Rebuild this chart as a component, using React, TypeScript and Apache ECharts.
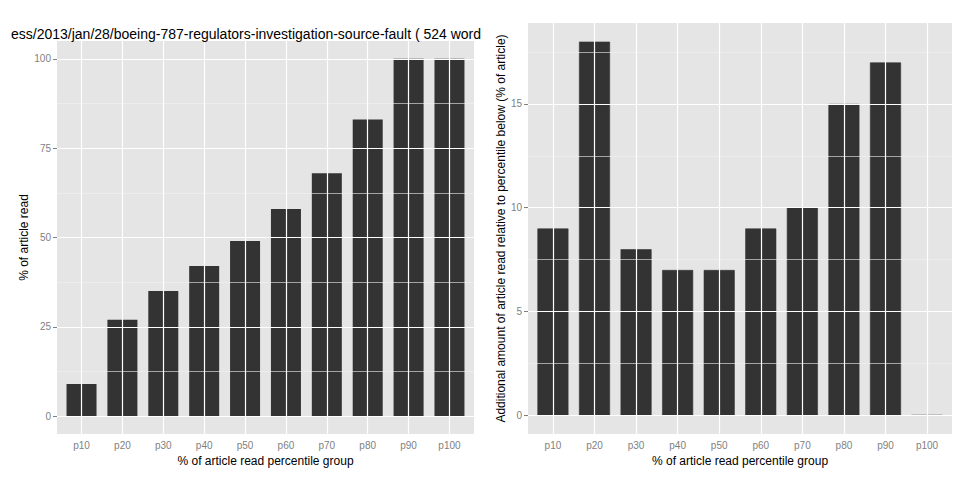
import React, { useEffect, useRef } from "react";
import * as echarts from "echarts";

const categories = ["p10", "p20", "p30", "p40", "p50", "p60", "p70", "p80", "p90", "p100"];
const cumulative = [9, 27, 35, 42, 49, 58, 68, 83, 100, 100];
const additional = [9, 18, 8, 7, 7, 9, 10, 15, 17, 0];
const leftTicks = [0, 25, 50, 75, 100];
const leftMinor = [12.5, 37.5, 62.5, 87.5];
const rightTicks = [0, 5, 10, 15];
const rightMinor = [2.5, 7.5, 12.5, 17.5];
const titleText = "ess/2013/jan/28/boeing-787-regulators-investigation-source-fault ( 524 word";

const positions = categories.map((_, i) => i + 1);
const FONT = "Liberation Sans";

function xAxis(gridIndex: number) {
  return {
    type: "value", gridIndex, min: 0.4, max: 10.6,
    name: "% of article read percentile group", nameLocation: "middle", nameGap: 21,
    nameTextStyle: { color: "#000", fontSize: 12, fontFamily: FONT },
    axisLine: { show: false }, splitLine: { show: false },
    axisTick: { show: true, customValues: positions, length: 4, lineStyle: { color: "#7f7f7f" } },
    axisLabel: { customValues: positions, color: "#7f7f7f", fontSize: 10, fontFamily: FONT, margin: 6,
      formatter: (v: number) => categories[Math.round(v) - 1] ?? "" },
  };
}
function yAxis(gridIndex: number, min: number, max: number, ticks: number[], name: string, gap: number) {
  return {
    type: "value", gridIndex, min, max, name, nameLocation: "middle", nameGap: gap,
    nameTextStyle: { color: "#000", fontSize: 12, fontFamily: FONT },
    axisLine: { show: false }, splitLine: { show: false },
    axisTick: { show: true, customValues: ticks, length: 4, lineStyle: { color: "#7f7f7f" } },
    axisLabel: { customValues: ticks, color: "#7f7f7f", fontSize: 10, fontFamily: FONT, margin: 6 },
  };
}
function gridSeries(idx: number, major: number[], minor: number[]) {
  const ml = (arr: any[]) => arr;
  return {
    type: "line", xAxisIndex: idx, yAxisIndex: idx, data: [], z: 1, silent: true,
    markLine: {
      silent: true, symbol: "none", animation: false, label: { show: false },
      data: ml([
        ...minor.map((v) => ({ yAxis: v, lineStyle: { color: "#f2f2f2", width: 0.6, type: "solid" } })),
        ...major.map((v) => ({ yAxis: v, lineStyle: { color: "#ffffff", width: 1.2, type: "solid" } })),
        ...positions.map((v) => ({ xAxis: v, lineStyle: { color: "#ffffff", width: 1.2, type: "solid" } })),
      ]),
    },
  };
}

export default function App() {
  const ref = useRef<HTMLDivElement>(null);
  useEffect(() => {
    const chart = echarts.init(ref.current!, null, { renderer: "svg" });
    chart.setOption({
      animation: false,
      backgroundColor: "#fff",
      title: { text: titleText, left: -2, top: 14, textStyle: { fontSize: 14, fontWeight: "normal", color: "#000", fontFamily: FONT } },
      grid: [
        { left: 49, top: 33, width: 417, height: 409, show: true, backgroundColor: "#e5e5e5", borderWidth: 0 },
        { left: 520, top: 15, width: 425, height: 427, show: true, backgroundColor: "#e5e5e5", borderWidth: 0 },
      ],
      xAxis: [xAxis(0), xAxis(1)],
      yAxis: [
        yAxis(0, -5, 105, leftTicks, "% of article read", 26),
        yAxis(1, -0.9, 18.9, rightTicks, "Additional amount of article read relative to percentile below (% of article)", 18),
      ],
      series: [
        gridSeries(0, leftTicks, leftMinor),
        gridSeries(1, rightTicks, rightMinor),
        { type: "bar", xAxisIndex: 0, yAxisIndex: 0, z: 2, barWidth: 30,
          data: cumulative.map((v, i) => [positions[i], v]), itemStyle: { color: "#333333" } },
        { type: "bar", xAxisIndex: 1, yAxisIndex: 1, z: 2, barWidth: 31,
          data: additional.map((v, i) => [positions[i], v]),
          itemStyle: { color: "#333333", borderColor: "#333333", borderWidth: 0.6 } },
      ],
    });
    return () => chart.dispose();
  }, []);
  return <div ref={ref} style={{ width: 944, height: 464 }} />;
}
